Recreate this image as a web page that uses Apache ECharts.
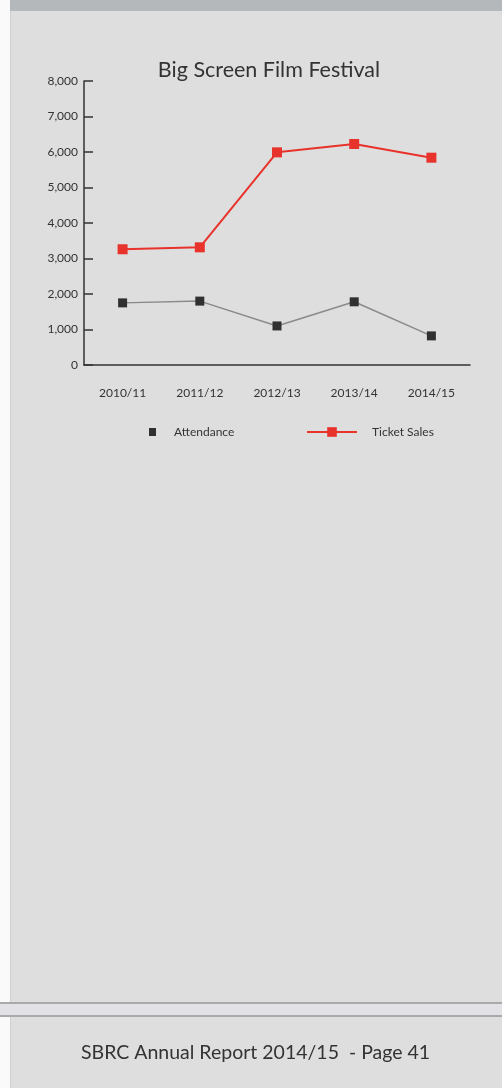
<!DOCTYPE html>
<html>
<head>
<meta charset="utf-8">
<script src="https://cdn.jsdelivr.net/npm/echarts@6/dist/echarts.min.js"></script>
<style>
html,body{margin:0;padding:0;background:#fff;}
#c{width:502px;height:1088px;}
</style>
</head>
<body>
<div id="c"></div>
<script>
var categories = ['2010/11', '2011/12', '2012/13', '2013/14', '2014/15'];
var attendance = [1750, 1800, 1100, 1780, 820];
var ticketSales = [3260, 3315, 5990, 6225, 5840];
var yMin = 0, yMax = 8000, yStep = 1000;

var FONT = 'Lato, "Open Sans", sans-serif';
var chart = echarts.init(document.getElementById('c'), null, {renderer: 'canvas'});
chart.setOption({
  backgroundColor: '#dedede',
  animation: false,
  title: {
    text: 'Big Screen Film Festival',
    left: 264, textAlign: 'center', top: 54,
    textStyle: {fontFamily: FONT, fontSize: 21.5, fontWeight: 'normal', color: '#333'}
  },
  graphic: [
    {type: 'rect', shape: {x: 0, y: 0, width: 10, height: 1088}, style: {fill: '#fafafa'}},
    {type: 'rect', shape: {x: 10, y: 0, width: 1, height: 1088}, style: {fill: '#d0d0d0'}},
    {type: 'rect', shape: {x: 10, y: 0, width: 492, height: 11}, style: {fill: '#b5b8bb'}},
    {type: 'rect', shape: {x: 0, y: 1002, width: 502, height: 2}, style: {fill: '#a9a9a9'}},
    {type: 'rect', shape: {x: 0, y: 1004, width: 502, height: 11}, style: {fill: '#e2e2e6'}},
    {type: 'rect', shape: {x: 0, y: 1015, width: 502, height: 2}, style: {fill: '#a9a9a9'}},
    {type: 'text', left: 81, top: 1043,
      style: {text: 'SBRC Annual Report 2014/15  - Page 41', font: '19.5px ' + FONT, fill: '#333'}}
  ],
  legend: [
    {
      data: [{name: 'Attendance', icon: 'rect'}],
      left: 144, top: 421, itemWidth: 7, itemHeight: 8, itemGap: 0,
      textStyle: {fontFamily: FONT, fontSize: 12, color: '#333', padding: [0, 0, 0, 13]}
    },
    {
      data: ['Ticket Sales'],
      left: 301, top: 421, itemWidth: 50, itemHeight: 12,
      textStyle: {fontFamily: FONT, fontSize: 12, color: '#333', padding: [0, 0, 0, 10]}
    }
  ],
  grid: {left: 84, right: 32, top: 81, bottom: 723, containLabel: false},
  xAxis: {
    type: 'category', data: categories, boundaryGap: true,
    axisLine: {lineStyle: {color: '#333', width: 1.5}},
    axisTick: {inside: true, length: 6, lineStyle: {color: '#333', width: 1.5}},
    axisLabel: {margin: 22, fontFamily: FONT, fontSize: 12, color: '#333'},
    splitLine: {show: false}
  },
  yAxis: {
    type: 'value', min: yMin, max: yMax, interval: yStep,
    axisLine: {show: true, lineStyle: {color: '#333', width: 1.5}},
    axisTick: {show: true, inside: true, length: 9, lineStyle: {color: '#333', width: 1.5}},
    axisLabel: {margin: 6, fontFamily: FONT, fontSize: 12, color: '#333',
      formatter: function (v) { return v.toLocaleString('en-US'); }},
    splitLine: {show: false}
  },
  series: [
    {
      name: 'Attendance', type: 'line', data: attendance,
      symbol: 'rect', symbolSize: 9,
      itemStyle: {color: '#303030'},
      lineStyle: {color: '#8a8a8a', width: 1.5}
    },
    {
      name: 'Ticket Sales', type: 'line', data: ticketSales,
      symbol: 'rect', symbolSize: 10,
      itemStyle: {color: '#e8322c'},
      lineStyle: {color: '#e8322c', width: 2}
    }
  ]
});
</script>
</body>
</html>
